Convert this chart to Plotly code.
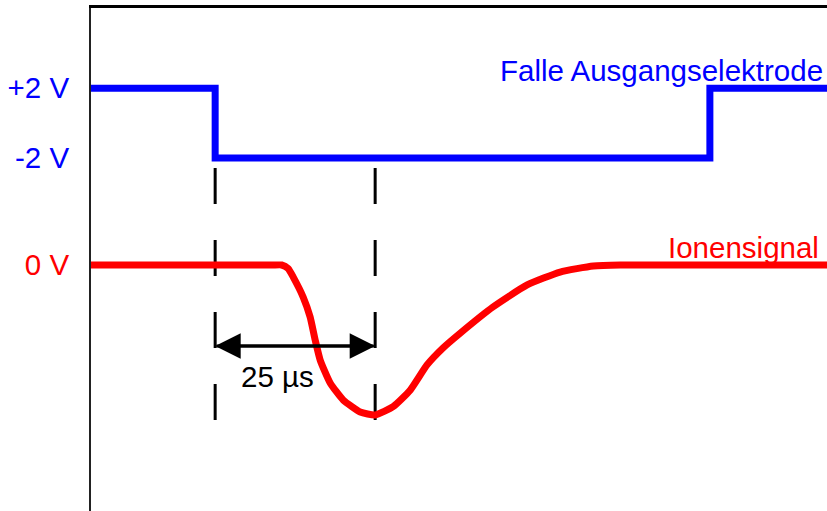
import plotly.graph_objects as go

# Time axis in microseconds, vertical axis in display units (17.5 px per unit)
t_start, t_end = -19.4, 95.6

# Trap exit electrode: step from +2 V to -2 V and back (drawn around an offset level)
electrode_offset = 8.11
electrode_t = [t_start, 0.0, 77.3, t_end]
electrode_v = [2.0, -2.0, 2.0, 2.0]

# Ion signal (arbitrary units, baseline 0 V)
ion_t = [t_start, -5.0, 5.0, 9.0, 10.4, 11.4, 12.2, 13.75, 14.84, 15.63, 16.41, 17.97, 20.0,
         22.66, 25.0, 27.8, 30.5, 33.1, 35.6, 38.3, 43.4, 48.75, 53.9, 59.1, 63.3, 75.0, t_end]
ion_y = [0.0, 0.0, 0.0, 0.0, 0.0, -0.2, -0.69, -1.83, -2.97, -4.29, -5.43, -6.74, -7.71,
         -8.4, -8.57, -8.1, -7.14, -5.71, -4.74, -3.89, -2.4, -1.14, -0.4, -0.06, 0.0, 0.0, 0.0]

# Marker times and delay
marker_times = [0.0, 25.0]
delay_label = "25 µs"

tick_vals = [electrode_offset + 2.0, electrode_offset - 2.0, 0.0]
tick_text = ["+2 V", "-2 V", "0 V"]
tick_colors = ["#0000FF", "#0000FF", "#FF0000"]

BLUE = "#0000FF"
RED = "#FF0000"
FONT = "Liberation Sans, Arial, sans-serif"
FS = 29.5

fig = go.Figure()

fig.add_trace(go.Scatter(
    x=electrode_t, y=[v + electrode_offset for v in electrode_v],
    mode="lines", line=dict(color=BLUE, width=7, shape="hv"),
    hoverinfo="skip", showlegend=False,
))

fig.add_trace(go.Scatter(
    x=ion_t, y=ion_y,
    mode="lines", line=dict(color=RED, width=7, shape="spline", smoothing=0.5),
    hoverinfo="skip", showlegend=False,
))

# Dashed marker lines
for tm in marker_times:
    fig.add_shape(type="line", xref="x", yref="y",
                  x0=tm, x1=tm, y0=5.54, y1=-8.86,
                  line=dict(color="black", width=3, dash="36px,36px"),
                  layer="below")

# Double arrow between the two markers: each arrow spans the full interval
arrow_y = -4.63
mid = (marker_times[0] + marker_times[1]) / 2
for tip, tail in ((marker_times[0], marker_times[1]), (marker_times[1], marker_times[0])):
    fig.add_annotation(x=tip, y=arrow_y, ax=tail, ay=arrow_y,
                       xref="x", yref="y", axref="x", ayref="y",
                       text="", showarrow=True, arrowhead=2, arrowsize=1.7,
                       arrowwidth=3, arrowcolor="black", standoff=0)

fig.add_annotation(x=mid, y=arrow_y, xref="x", yref="y", text=delay_label,
                   showarrow=False, font=dict(family=FONT, size=FS, color="black"),
                   yshift=-30, xshift=-18)

# Trace labels
fig.add_annotation(x=1, y=electrode_offset + 2.0, xref="paper", yref="y",
                   text="Falle Ausgangselektrode", showarrow=False,
                   xanchor="right", yanchor="middle", xshift=-2, yshift=18,
                   font=dict(family=FONT, size=FS, color=BLUE))
fig.add_annotation(x=1, y=0, xref="paper", yref="y",
                   text="Ionensignal", showarrow=False,
                   xanchor="right", yanchor="middle", xshift=-6, yshift=18,
                   font=dict(family=FONT, size=FS, color=RED))

fig.update_layout(
    width=827, height=511,
    margin=dict(l=91, r=0, t=8, b=0),
    paper_bgcolor="white", plot_bgcolor="white",
    font=dict(family=FONT, size=FS),
    xaxis=dict(range=[t_start, t_end], side="top", showline=True, linecolor="black",
               linewidth=3, showgrid=False, zeroline=False, showticklabels=False,
               ticks=""),
    yaxis=dict(range=[-14.06, 14.69], showline=True, linecolor="#222222", linewidth=2,
               showgrid=False, zeroline=False, ticks="",
               tickvals=tick_vals,
               ticktext=[f'<span style="color:{c}">{t}</span>' for t, c in zip(tick_text, tick_colors)],
               ticklabelstandoff=14,
               tickfont=dict(family=FONT, size=FS)),
)

fig.write_html("out.html")
